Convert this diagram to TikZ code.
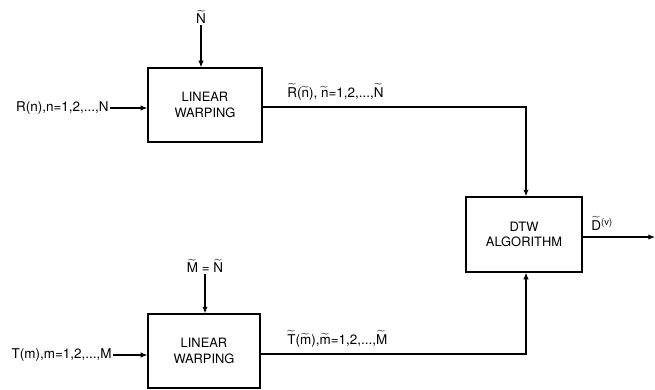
\documentclass[tikz,border=0pt]{standalone}
\usepackage{amsmath}
\usepackage{fontspec}
\setmainfont{TeX Gyre Heros}
\usetikzlibrary{arrows.meta,positioning,calc}
\newcommand{\tld}[1]{\ensuremath{\widetilde{\text{#1}}}}
\tikzset{block/.style={rectangle,draw=black,line width=1pt,fill=white,align=center,inner sep=2pt,font=\fontsize{11}{13.5}\selectfont},flow/.style={draw=black,line width=1pt,-{Latex[length=2mm,width=1.6mm]}},wire/.style={draw=black,line width=1pt},sig/.style={inner sep=1pt,text=black}}

\begin{document}
\begin{tikzpicture}[x=0.03cm,y=-0.03cm,font=\fontsize{11.5}{13}\selectfont]
\useasboundingbox (0,0) rectangle (655,389);
\node[block,minimum width=3.42cm,minimum height=2.22cm] (warpR) at (205,105) {LINEAR\\WARPING};\node[block,minimum width=3.36cm,minimum height=2.22cm] (warpT) at (204,351) {LINEAR\\WARPING};\node[block,minimum width=3.48cm,minimum height=2.25cm] (dtw) at (524,234.5) {DTW\\ALGORITHM};
\node[sig] (Ntop) at (201,17) {\tld{N}};\node[sig] (Mtop) at (205,266) {\tld{M} = \tld{N}};
\node[sig,anchor=east] (inR) at (110,108) {R(n),n=1,2,...,N};\node[sig,anchor=east] (inT) at (113,355) {T(m),m=1,2,...,M};
\coordinate (cornerR) at (526,107);\coordinate (cornerT) at (526,354);\coordinate (outD) at (655,237);
\draw[flow] (Ntop) -- (Ntop |- warpR.north);\draw[flow] (Mtop) -- (Mtop |- warpT.north);
\draw[flow] (inR) -- (inR -| warpR.west);\draw[flow] (inT) -- (inT -| warpT.west);
\draw[flow] (warpR.east |- cornerR) -- (cornerR) -- (cornerR |- dtw.north);\node[sig,anchor=south west] (lblR) at (286,102) {\tld{R}(\tld{n}), \tld{n}=1,2,...,\tld{N}};
\draw[flow] (warpT.east |- cornerT) -- (cornerT) -- (cornerT |- dtw.south);\node[sig,anchor=south west] (lblT) at (286,349) {\tld{T}(\tld{m}),\tld{m}=1,2,...,\tld{M}};
\draw[flow] (dtw.east |- outD) -- (outD);\node[sig,anchor=south west] (lblD) at (590,232) {\tld{D}\textsuperscript{(v)}};
\end{tikzpicture}
\end{document}
